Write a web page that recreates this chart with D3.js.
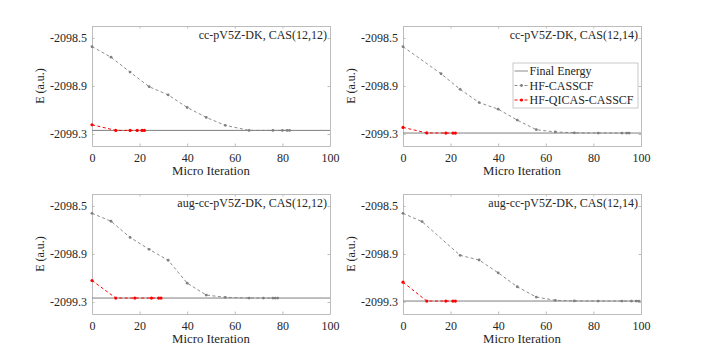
<!DOCTYPE html>
<html>
<head>
<meta charset="utf-8">
<script src="https://cdn.jsdelivr.net/npm/d3@7"></script>
<style>
  body { margin: 0; background: #fff; }
  svg { display: block; }
  svg text { font-family: "Liberation Serif", "Times New Roman", serif; font-size: 12px; fill: #262626; }
</style>
</head>
<body>
<svg id="canvas" width="709" height="354"></svg>
<script>
'use strict';

// panel titles
const titles = [
  'cc-pV5Z-DK, CAS(12,12)',
  'cc-pV5Z-DK, CAS(12,14)',
  'aug-cc-pV5Z-DK, CAS(12,12)',
  'aug-cc-pV5Z-DK, CAS(12,14)'
];

// final energies (a.u.)
const finalEnergy = [-2099.270, -2099.292, -2099.267, -2099.292];

// HF-CASSCF micro iterations / energies
const casIter = [
  [0, 8, 16, 24, 32, 40, 48, 56, 66, 76, 80, 82, 83],
  [0, 16, 24, 32, 40, 48, 56, 64, 72, 82, 92, 94, 95],
  [0, 8, 16, 24, 32, 40, 48, 56, 66, 72, 76, 77, 78],
  [0, 8, 24, 32, 40, 48, 56, 64, 72, 82, 92, 96, 98, 99]
];
const casEnergy = [
  [-2098.572, -2098.660, -2098.784, -2098.906, -2098.974, -2099.079, -2099.162, -2099.228, -2099.270, -2099.270, -2099.270, -2099.270, -2099.270],
  [-2098.572, -2098.798, -2098.928, -2099.038, -2099.093, -2099.184, -2099.264, -2099.283, -2099.290, -2099.292, -2099.292, -2099.292, -2099.292],
  [-2098.561, -2098.627, -2098.762, -2098.861, -2098.952, -2099.143, -2099.242, -2099.261, -2099.267, -2099.267, -2099.267, -2099.267, -2099.267],
  [-2098.561, -2098.630, -2098.911, -2098.950, -2099.057, -2099.173, -2099.259, -2099.286, -2099.291, -2099.292, -2099.292, -2099.292, -2099.292, -2099.292]
];

// HF-QICAS-CASSCF micro iterations / energies
const qiIter = [
  [0, 10, 16, 19, 21, 22],
  [0, 10, 18, 21, 22],
  [0, 10, 18, 25, 28, 29],
  [0, 10, 18, 21, 22]
];
const qiEnergy = [
  [-2099.223, -2099.270, -2099.270, -2099.270, -2099.270, -2099.270],
  [-2099.245, -2099.291, -2099.292, -2099.292, -2099.292],
  [-2099.121, -2099.267, -2099.267, -2099.267, -2099.267, -2099.267],
  [-2099.135, -2099.292, -2099.292, -2099.292, -2099.292]
];

const xTicks = [0, 20, 40, 60, 80, 100];
const yTicks = [-2098.5, -2098.9, -2099.3];
const legendLabels = ['Final Energy', 'HF-CASSCF', 'HF-QICAS-CASSCF'];

const GRAY = '#7f7f7f';
const RED = '#ff0000';
const BOX = '#bcbcbc';

// panel boxes: left, top
const origins = [[92, 26], [403, 26], [92, 194], [403, 194]];
const W = 238, H = 120;

const svg = d3.select('#canvas');

function drawPanel(i){
  let [ox, oy] = origins[i];
  let g = svg.append('g').attr('transform', 'translate(' + ox + ',' + oy + ')');

  let X = d3.scaleLinear().domain([0, 100]).range([0, W]);
  let Y = d3.scaleLinear().domain([-2099.4, -2098.4]).range([H, 0]);

  /* axes, MATLAB style: ticks inside, box on */
  let xb = g.append('g').attr('transform', 'translate(0,' + H + ')')
    .call(d3.axisBottom(X).tickValues(xTicks).tickSizeInner(-2.5).tickSizeOuter(0).tickPadding(7));
  let xt = g.append('g')
    .call(d3.axisTop(X).tickValues(xTicks).tickSizeInner(-2.5).tickSizeOuter(0).tickFormat(''));
  let yl = g.append('g')
    .call(d3.axisLeft(Y).tickValues(yTicks).tickSizeInner(-2.5).tickSizeOuter(0).tickPadding(5)
      .tickFormat(d => d3.format('.1f')(d).replace('\u2212', '-')));
  let yr = g.append('g').attr('transform', 'translate(' + W + ',0)')
    .call(d3.axisRight(Y).tickValues(yTicks).tickSizeInner(-2.5).tickSizeOuter(0).tickFormat(''));
  [xb, xt, yl, yr].forEach(a => {
    a.attr('font-family', null).attr('font-size', null);
    a.selectAll('path, line').attr('stroke', BOX);
    a.selectAll('text').attr('fill', '#262626');
  });

  /* final energy reference */
  g.append('line')
    .attr('x1', X(0)).attr('x2', X(100))
    .attr('y1', Y(finalEnergy[i])).attr('y2', Y(finalEnergy[i]))
    .attr('stroke', GRAY).attr('stroke-width', 1);

  let line = d3.line().x(d => X(d[0])).y(d => Y(d[1]));

  let cas = casIter[i].map((d, k) => [d, casEnergy[i][k]]);
  let qi = qiIter[i].map((d, k) => [d, qiEnergy[i][k]]);

  g.append('path').datum(cas).attr('d', line)
    .attr('fill', 'none').attr('stroke', GRAY).attr('stroke-width', 0.9)
    .attr('stroke-dasharray', '3,2.5');
  g.append('g').selectAll('circle').data(cas).join('circle')
    .attr('cx', d => X(d[0])).attr('cy', d => Y(d[1])).attr('r', 1.4)
    .attr('fill', GRAY);

  g.append('path').datum(qi).attr('d', line)
    .attr('fill', 'none').attr('stroke', RED).attr('stroke-width', 1)
    .attr('stroke-dasharray', '3,2.5');
  g.append('g').selectAll('circle').data(qi).join('circle')
    .attr('cx', d => X(d[0])).attr('cy', d => Y(d[1])).attr('r', 1.6)
    .attr('fill', RED);

  /* labels */
  g.append('text')
    .attr('x', W / 2).attr('y', H + 29)
    .attr('text-anchor', 'middle')
    .style('font-size', '12.8px')
    .text('Micro Iteration');
  g.append('text')
    .attr('transform', 'translate(' + (-48) + ',' + (H / 2) + ') rotate(-90)')
    .attr('text-anchor', 'middle')
    .text('E (a.u.)');
  g.append('text')
    .attr('x', W - 3).attr('y', 13)
    .attr('text-anchor', 'end')
    .text(titles[i]);

  if(i === 1) drawLegend(g);
}

function drawLegend(g){
  let lg = g.append('g').attr('transform', 'translate(110,37)');
  lg.append('rect').attr('width', 125).attr('height', 45)
    .attr('fill', '#fff').attr('stroke', BOX).attr('stroke-width', 0.8);
  let colors = [GRAY, GRAY, RED];
  legendLabels.forEach((label, k) => {
    let y = 8 + k * 14.5;
    let row = lg.append('g').attr('transform', 'translate(0,' + y + ')');
    row.append('line').attr('x1', 1.5).attr('x2', 15).attr('y1', 0).attr('y2', 0)
      .attr('stroke', colors[k]).attr('stroke-width', k === 2 ? 1 : 0.9)
      .attr('stroke-dasharray', k === 0 ? null : '3,2');
    if(k > 0){
      row.append('circle').attr('cx', 8.5).attr('cy', 0).attr('r', k === 2 ? 1.6 : 1.4)
        .attr('fill', colors[k]);
    }
    row.append('text').attr('x', 16.5).attr('y', 4).text(label);
  });
}

for(let i = 0; i < 4; i++) drawPanel(i);
</script>
</body>
</html>
